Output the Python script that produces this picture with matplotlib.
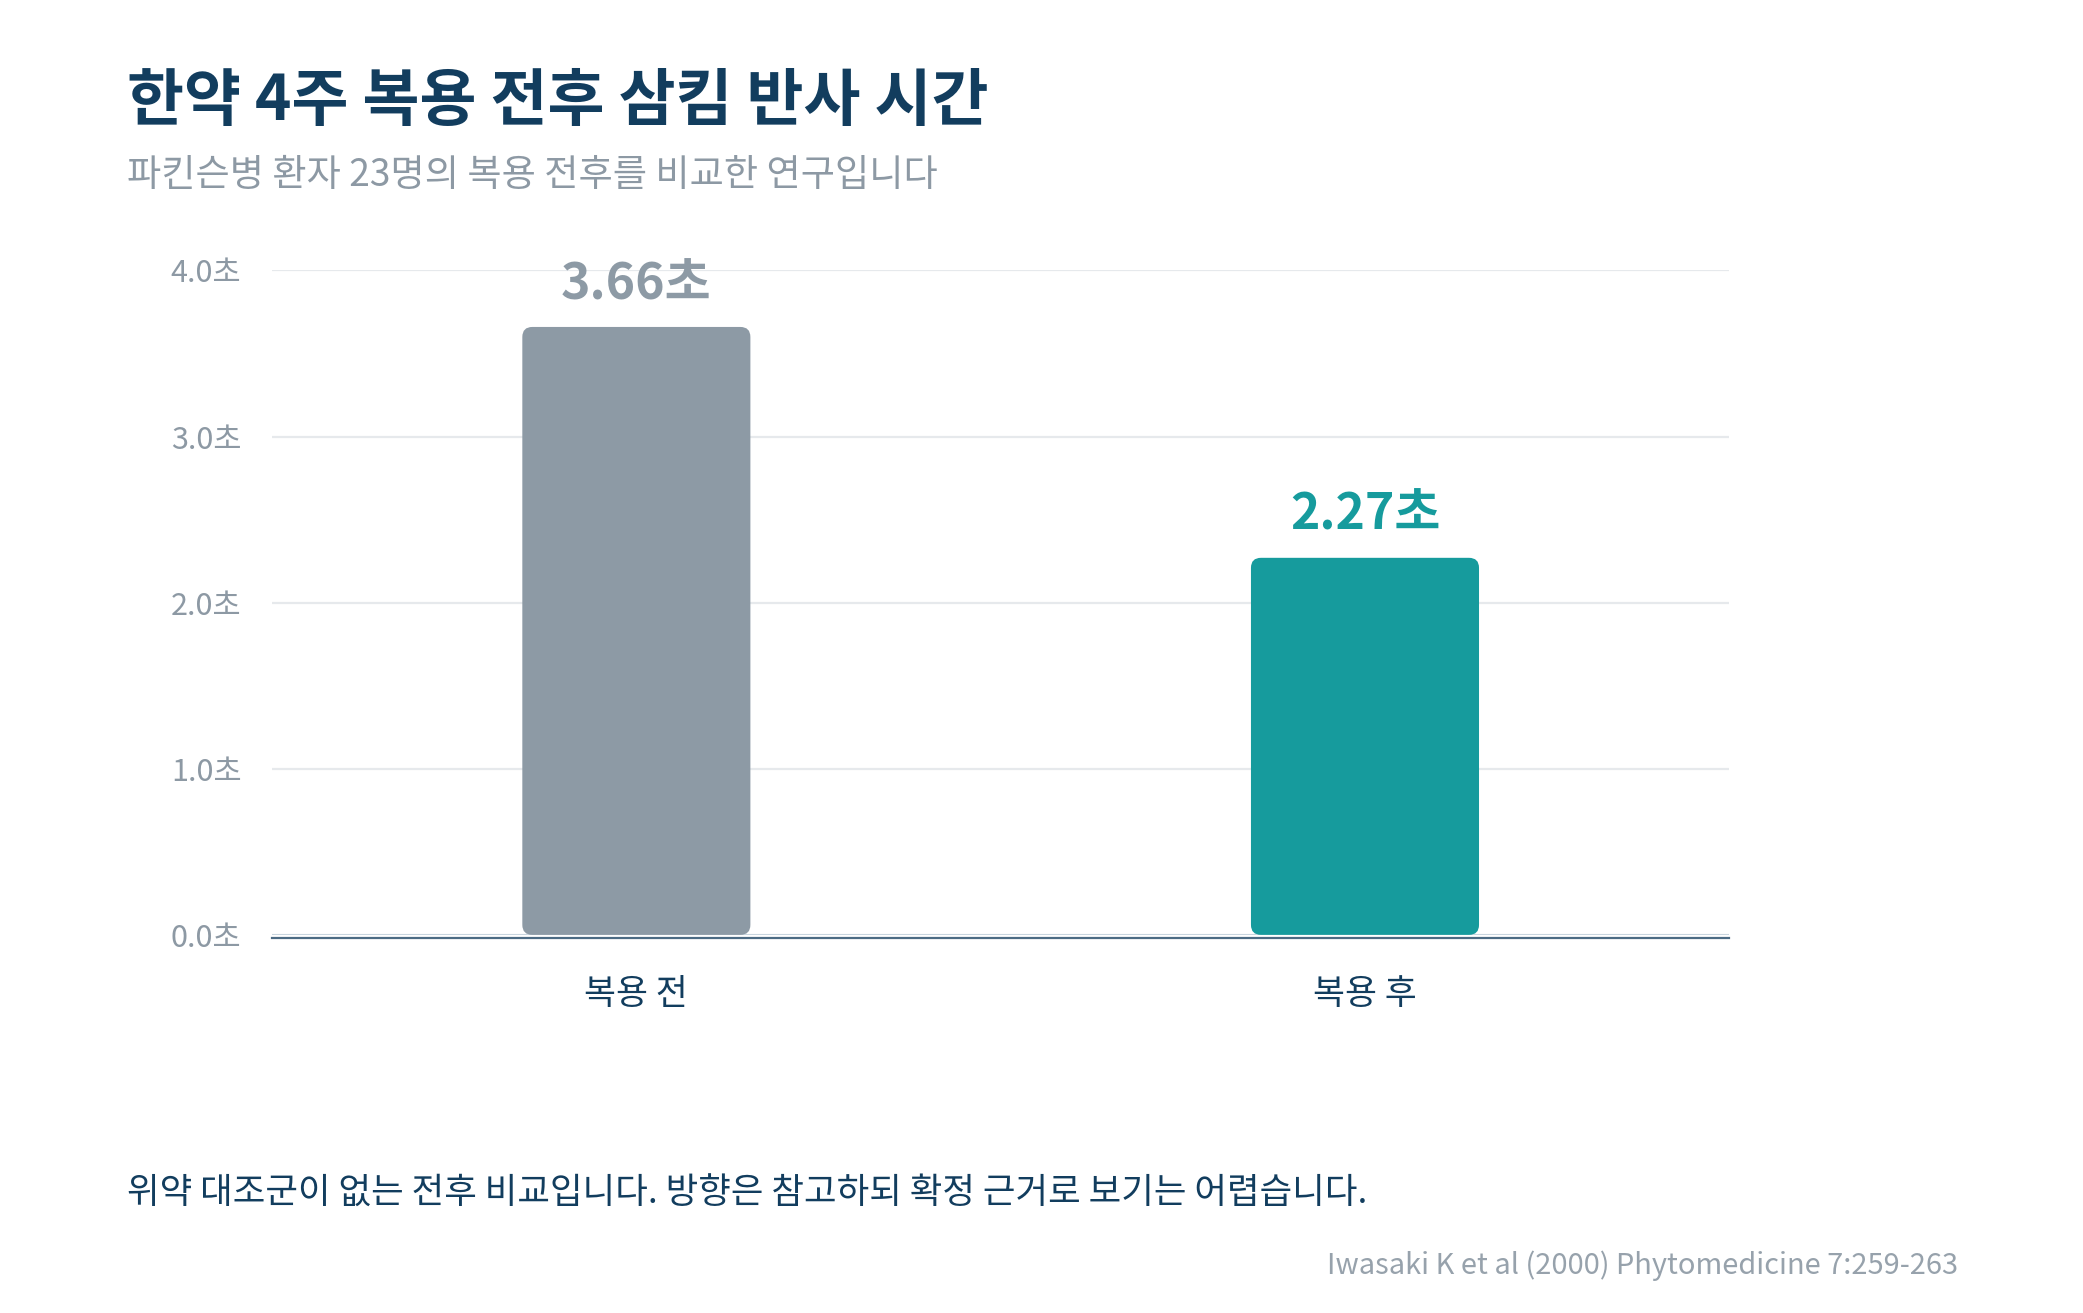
import matplotlib
matplotlib.use('Agg')
import matplotlib.pyplot as plt
from matplotlib.patches import FancyBboxPatch

plt.rcParams['font.family'] = ['Noto Sans CJK KR', 'DejaVu Sans']

# 데이터
categorias = ['복용 전', '복용 후']
tempos = [3.66, 2.27]
rotulos = ['3.66초', '2.27초']
cores = ['#8d9aa5', '#169b9d']
ticks_y = [0.0, 1.0, 2.0, 3.0, 4.0]
rotulos_y = ['0.0초', '1.0초', '2.0초', '3.0초', '4.0초']

titulo = '한약 4주 복용 전후 삼킴 반사 시간'
subtitulo = '파킨슨병 환자 23명의 복용 전후를 비교한 연구입니다'
nota = '위약 대조군이 없는 전후 비교입니다. 방향은 참고하되 확정 근거로 보기는 어렵습니다.'
fonte = 'Iwasaki K et al (2000) Phytomedicine 7:259-263'

navy = '#123d5e'
cinza = '#8d99a4'

fig = plt.figure(figsize=(10.415, 6.565), dpi=200)
ax = fig.add_axes([0.1306, 0.288, 0.6996, 0.506])

posicoes = list(range(len(categorias)))
barras = ax.bar(posicoes, tempos, width=0.313, color=cores)

ax.set_xlim(-0.5, 1.5)
ax.set_ylim(0, 4)

# Trocar as barras por retângulos arredondados
fig.canvas.draw()
bbox = ax.get_window_extent()
px_x = bbox.width / 2.0
px_y = bbox.height / 4.0
raio = 10 / px_x
aspecto = px_x / px_y
for b, cor in zip(barras, cores):
    x, y = b.get_x(), b.get_y()
    w, h = b.get_width(), b.get_height()
    b.remove()
    caixa = FancyBboxPatch((x, y), w, h,
                           boxstyle=f'round,pad=0,rounding_size={raio}',
                           mutation_aspect=aspecto,
                           facecolor=cor, edgecolor='none', zorder=3)
    ax.add_patch(caixa)

# Rótulos dos valores
for i, v in enumerate(tempos):
    ax.text(i, v + 0.255, rotulos[i], ha='center', va='center',
            fontsize=18, fontweight='bold', color=cores[i], zorder=4)

ax.set_yticks(ticks_y)
ax.set_yticklabels(rotulos_y)
ax.set_xticks(posicoes)
ax.set_xticklabels(categorias)
ax.tick_params(axis='y', length=0, pad=11, labelsize=11, labelcolor=cinza)
ax.tick_params(axis='x', length=0, pad=14, labelsize=12.5, labelcolor=navy)

ax.grid(axis='y', color='#e6e9ec', linewidth=0.8, zorder=0)
ax.set_axisbelow(True)
for lado in ['top', 'right', 'left']:
    ax.spines[lado].set_visible(False)
ax.axhline(0, color='#c5d3de', linewidth=1.0, zorder=2)
ax.spines['bottom'].set_position(('outward', 1.3))
ax.spines['bottom'].set_color('#4c6b84')
ax.spines['bottom'].set_linewidth(0.8)

fig.text(0.061, 0.923, titulo, fontsize=22.3, fontweight='bold', color=navy,
         ha='left', va='center')
fig.text(0.061, 0.866, subtitulo, fontsize=13.4, color=cinza,
         ha='left', va='center')
fig.text(0.061, 0.091, nota, fontsize=12.75, color=navy, ha='left', va='center')
fig.text(0.940, 0.036, fonte, fontsize=10.45, color='#97a2ac', ha='right', va='center')

fig.savefig('out.png', dpi=200, facecolor='white')
